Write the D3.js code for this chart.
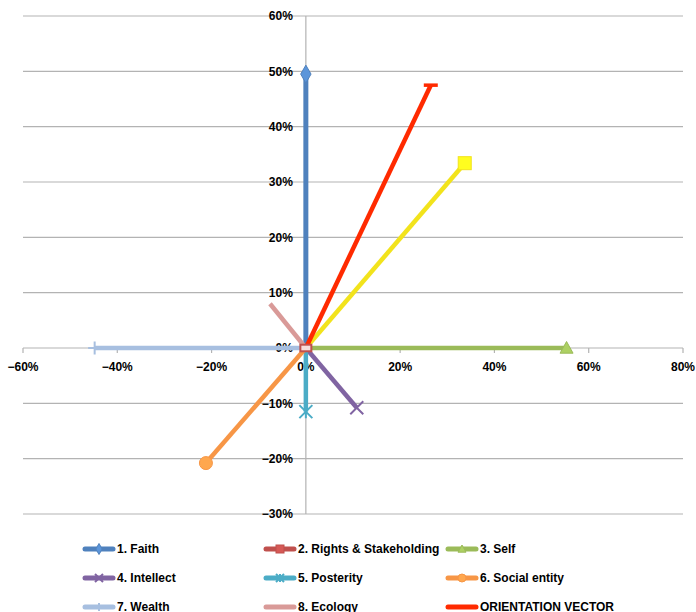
<!DOCTYPE html>
<html><head><meta charset="utf-8">
<script src="https://cdn.jsdelivr.net/npm/d3@7"></script>
<style>body{margin:0;background:#fff}svg{display:block}text{font-family:"Liberation Sans",Arial,sans-serif;font-weight:bold;font-size:12px;fill:#000}</style>
</head><body>
<svg id="c" width="696" height="612"></svg>
<script>
// Data
const seriesNames = ["1. Faith","2. Rights & Stakeholding","3. Self","4. Intellect","5. Posterity","6. Social entity","7. Wealth","8. Ecology","","ORIENTATION VECTOR"];
const seriesX = [0, 0, 0.553, 0.108, 0, -0.212, -0.448, -0.076, 0.337, 0.265];
const seriesY = [0.495, 0, 0, -0.108, -0.115, -0.208, 0, 0.08, 0.334, 0.475];
const seriesColors = ["#4f81bd","#c0504d","#9bbb59","#8064a2","#4bacc6","#f79646","#a7bfe0","#d99a98","#f2e31c","#ff2a00"];
const seriesMarkers = ["diamond","square","triangle","x","star","circle","plus","none","square","dash"];
const legendOrder = [0,1,2,3,4,5,6,7,9];
const xTicks = [-0.6,-0.4,-0.2,0,0.2,0.4,0.6,0.8];
const yTicks = [-0.3,-0.2,-0.1,0,0.1,0.2,0.3,0.4,0.5,0.6];

const svg = d3.select("#c");
const x = d3.scaleLinear().domain([-0.6,0.8]).range([23,683]);
const y = d3.scaleLinear().domain([-0.3,0.6]).range([514,16]);
const pct = d3.format(".0%");

// gridlines
svg.append("g").selectAll("line").data(yTicks).join("line")
  .attr("x1",x(-0.6)).attr("x2",x(0.8)).attr("y1",d=>y(d)).attr("y2",d=>y(d))
  .attr("stroke","#b3b3b3").attr("stroke-width",1.2);
// y axis
svg.append("line").attr("x1",x(0)).attr("x2",x(0)).attr("y1",y(0.6)).attr("y2",y(-0.3))
  .attr("stroke","#b3b3b3").attr("stroke-width",1.2);
// x axis ticks
svg.append("g").selectAll("line").data(xTicks).join("line")
  .attr("x1",d=>x(d)).attr("x2",d=>x(d)).attr("y1",y(0)).attr("y2",y(0)+5)
  .attr("stroke","#b3b3b3").attr("stroke-width",1.2);
// tick labels
svg.append("g").selectAll("text").data(yTicks).join("text")
  .attr("x",x(0)-13).attr("y",d=>y(d)).attr("dy","0.35em").attr("text-anchor","end").text(d=>pct(d));
svg.append("g").selectAll("text").data(xTicks).join("text")
  .attr("x",d=>x(d)).attr("y",y(0)+23).attr("text-anchor","middle").text(d=>pct(d));

function drawMarker(g, type, cx, cy, color, s, light){
  const h = s/2;
  const fillC = light ? "#f6dcdb" : d3.color(color).brighter(0.3);
  if(type==="diamond"){
    g.append("path").attr("d",d3.symbol(d3.symbolDiamond, s*s*0.55)()).attr("transform",`translate(${cx},${cy})`)
      .attr("fill",d3.color(color).brighter(0.4)).attr("stroke",color).attr("stroke-width",1);
  } else if(type==="square"){
    const hh = light ? h*0.6 : h;
    g.append("rect").attr("x",cx-h).attr("y",cy-hh).attr("width",s).attr("height",hh*2)
      .attr("fill",fillC).attr("stroke",color).attr("stroke-width",light?2:1);
  } else if(type==="triangle"){
    g.append("path").attr("d",`M${cx},${cy-h}L${cx+h},${cy+h*0.8}L${cx-h},${cy+h*0.8}Z`)
      .attr("fill",fillC).attr("stroke",color).attr("stroke-width",1);
  } else if(type==="circle"){
    g.append("circle").attr("cx",cx).attr("cy",cy).attr("r",h)
      .attr("fill",fillC).attr("stroke",color).attr("stroke-width",1);
  } else if(type==="x"||type==="star"){
    g.append("path").attr("d",`M${cx-h},${cy-h}L${cx+h},${cy+h}M${cx-h},${cy+h}L${cx+h},${cy-h}`+(type==="star"?`M${cx},${cy-h}L${cx},${cy+h}`:""))
      .attr("stroke",color).attr("stroke-width",2);
  } else if(type==="plus"){
    g.append("path").attr("d",`M${cx-h},${cy}L${cx+h},${cy}M${cx},${cy-h}L${cx},${cy+h}`)
      .attr("stroke",color).attr("stroke-width",2);
  } else if(type==="dash"){
    g.append("path").attr("d",`M${cx-h},${cy}L${cx+h},${cy}`).attr("stroke",color).attr("stroke-width",3.5);
  }
}

// lines
const lines = svg.append("g");
const lineGen = d3.line().x(d=>x(d[0])).y(d=>y(d[1]));
seriesX.forEach((vx,i)=>{
  if(i===1) return;
  lines.append("path").attr("d",lineGen([[0,0],[vx,seriesY[i]]]))
    .attr("fill","none").attr("stroke",seriesColors[i]).attr("stroke-width",i===0?5:4.5);
});
// markers
const marks = svg.append("g");
seriesX.forEach((vx,i)=>{
  drawMarker(marks, seriesMarkers[i], x(vx), y(seriesY[i]), seriesColors[i], i===1?11:(seriesMarkers[i]==="dash"?14:13), i===1);
});

// legend
const legend = svg.append("g");
const colX = [83,264,446], rowY = [549,578,607];
legendOrder.forEach((si,k)=>{
  const cx = colX[k%3], cy = rowY[Math.floor(k/3)];
  legend.append("line").attr("x1",cx+2).attr("x2",cx+30).attr("y1",cy).attr("y2",cy)
    .attr("stroke",seriesColors[si]).attr("stroke-width",5).attr("stroke-linecap","round");
  if(seriesMarkers[si]!=="dash") drawMarker(legend, seriesMarkers[si], cx+16, cy, seriesColors[si], 8, false);
  legend.append("text").attr("x",cx+34).attr("y",cy).attr("dy","0.36em").text(seriesNames[si]);
});
</script>
</body></html>
